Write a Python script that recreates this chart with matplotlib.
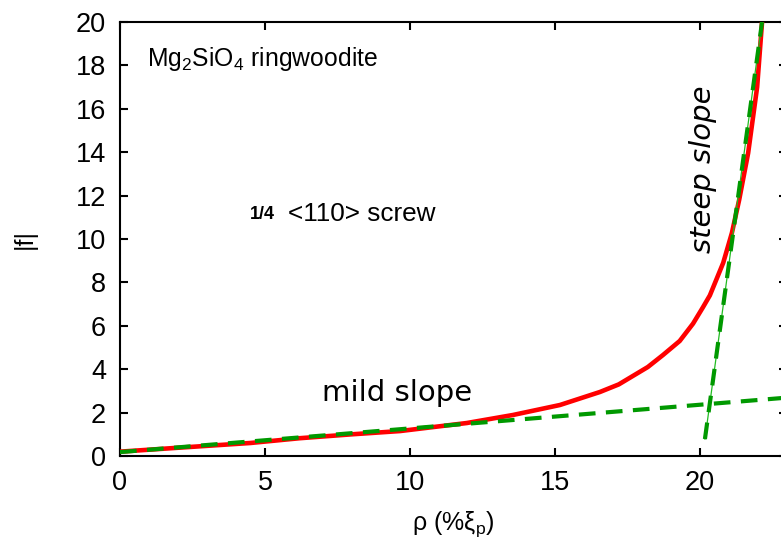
import matplotlib
matplotlib.use("Agg")
import matplotlib.pyplot as plt

plt.rcParams['font.family'] = ['Liberation Sans', 'DejaVu Sans']
plt.rcParams['mathtext.fontset'] = 'custom'
plt.rcParams['mathtext.rm'] = 'Liberation Sans'
plt.rcParams['mathtext.it'] = 'Liberation Sans'

# red curve |f| vs rho
rho = [0, 2, 4.5, 6.2, 8, 9.66, 11.96, 13.55, 15.17, 16.55, 17.2, 17.7, 18.2,
       18.72, 19.3, 19.76, 20.1, 20.34, 20.8, 21.1, 21.35, 21.66, 21.97, 22.14]
f = [0.2, 0.38, 0.6, 0.82, 1.0, 1.15, 1.52, 1.89, 2.35, 2.95, 3.3, 3.7, 4.1,
     4.65, 5.3, 6.1, 6.85, 7.4, 8.9, 10.28, 11.8, 13.96, 17.0, 20.0]

# fitted slopes
mild_x = [0, 23]
mild_y = [0.18, 2.69]
steep_x = [20.17, 22.14]
steep_y = [0.78, 20.0]

xticks = [0, 5, 10, 15, 20]
yticks = [0, 2, 4, 6, 8, 10, 12, 14, 16, 18, 20]

fig = plt.figure(figsize=(7.81, 5.42), dpi=100)
ax = fig.add_axes([120/781, 86/542, 667/781, 434/542])

ax.plot(rho, f, color='#ff0000', lw=3.3, zorder=3, solid_joinstyle='round')
ax.plot(mild_x, mild_y, color='#009900', lw=3.0, ls=(0, (4, 2.5)), zorder=4)
ax.plot(steep_x, steep_y, color='#22bb22', lw=0.9, zorder=4)
ax.plot(steep_x, steep_y, color='#009900', lw=3.0, ls=(0, (4, 2.5)), zorder=4)

ax.set_xticks(xticks)
ax.set_yticks(yticks)
ax.set_xlim(0, 23)
ax.set_ylim(0, 20)
ax.tick_params(direction='in', length=6, width=1.5, labelsize=19.5,
               top=True, right=True, pad=10)
for s in ax.spines.values():
    s.set_linewidth(1.5)

ax.set_ylabel('|f|', fontsize=18, labelpad=28)
ax.set_xlabel('ρ (%ξ$_\\mathrm{p}$)', fontsize=18, labelpad=10)

ax.text(0.93, 18.3, 'Mg$_2$SiO$_4$ ringwoodite', fontsize=17.8, va='center', ha='left')
ax.text(4.48, 11.15, '1/4', fontsize=13, fontweight='bold', va='center', ha='left')
ax.text(5.79, 11.15, '<110> screw', fontsize=18.8, va='center', ha='left')
ax.text(9.55, 2.9, 'mild slope', fontsize=21, family='DejaVu Sans',
        va='center', ha='center')
ax.text(20.1, 13.2, 'steep slope', fontsize=21, family='DejaVu Sans',
        style='italic', rotation=90, va='center', ha='center')

fig.savefig('out.png', dpi=100)
